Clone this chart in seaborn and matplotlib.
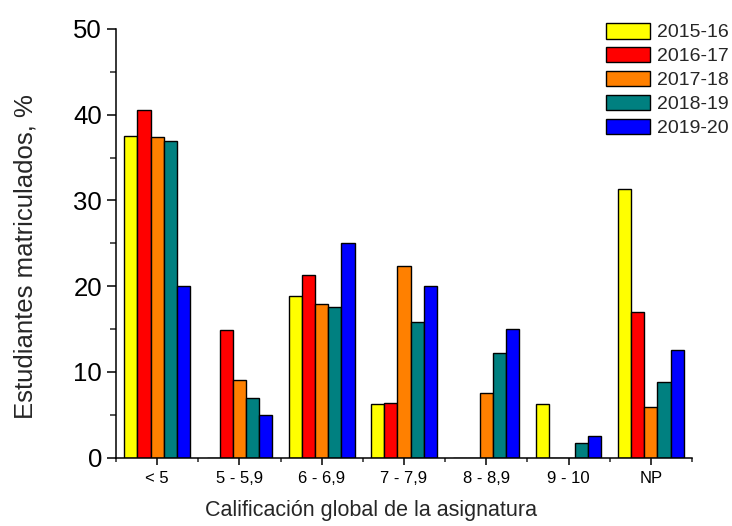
import matplotlib
matplotlib.use("Agg")
import matplotlib.pyplot as plt
from matplotlib.ticker import MultipleLocator, FixedLocator
import seaborn as sns
import pandas as pd

# Grade bands and academic years
categories = ["< 5", "5 - 5,9", "6 - 6,9", "7 - 7,9", "8 - 8,9", "9 - 10", "NP"]
years = ["2015-16", "2016-17", "2017-18", "2018-19", "2019-20"]

# Percentage of enrolled students per grade band, one list per year
v_2015_16 = [37.5, 0.0, 18.8, 6.2, 0.0, 6.2, 31.3]
v_2016_17 = [40.5, 14.9, 21.3, 6.4, 0.0, 0.0, 17.0]
v_2017_18 = [37.4, 9.0, 17.9, 22.4, 7.5, 0.0, 5.9]
v_2018_19 = [36.9, 7.0, 17.6, 15.8, 12.2, 1.7, 8.8]
v_2019_20 = [20.0, 5.0, 25.0, 20.0, 15.0, 2.5, 12.5]

series = [v_2015_16, v_2016_17, v_2017_18, v_2018_19, v_2019_20]
colors = ["#FFFF00", "#FF0000", "#FF8000", "#008080", "#0000FF"]

rows = []
for year, vals in zip(years, series):
    for cat, v in zip(categories, vals):
        rows.append({"cat": cat, "val": v, "year": year})
df = pd.DataFrame(rows)

sns.set_style("ticks")
plt.rcParams["font.family"] = ["Liberation Sans", "DejaVu Sans"]

W, H = 732, 526
fig = plt.figure(figsize=(W / 100, H / 100), dpi=100)
ax = fig.add_axes([116 / W, 1 - 457.5 / H, (692 - 116) / W, (457.5 - 29) / H])

sns.barplot(data=df, x="cat", y="val", hue="year", order=categories,
            hue_order=years, palette=colors, width=0.8, saturation=1,
            edgecolor="black", linewidth=1.0, errorbar=None, ax=ax)

ax.set_xlim(-0.5, len(categories) - 0.5)
ax.set_ylim(0, 50)

for side in ("top", "right"):
    ax.spines[side].set_visible(False)
for side in ("left", "bottom"):
    ax.spines[side].set_linewidth(1.1)
    ax.spines[side].set_color("black")

ax.yaxis.set_major_locator(MultipleLocator(10))
ax.yaxis.set_minor_locator(MultipleLocator(5))
ax.xaxis.set_minor_locator(FixedLocator([i - 0.5 for i in range(len(categories) + 1)]))

ax.tick_params(axis="y", which="major", length=6.5, width=1.1, labelsize=18.5, pad=3.5, colors="black")
ax.tick_params(axis="y", which="minor", length=4, width=1.1)
ax.tick_params(axis="x", which="major", length=5, width=1.1, labelsize=12, pad=4.5, colors="black")
ax.tick_params(axis="x", which="minor", length=3, width=1.1)

ax.set_xlabel("Calificación global de la asignatura", fontsize=15.5)
ax.xaxis.set_label_coords(0.443, -0.1)
ax.set_ylabel("Estudiantes matriculados, %", fontsize=18.5)
ax.yaxis.set_label_coords(-0.137, 0.468)

handles, labels = ax.get_legend_handles_labels()
ax.legend(handles, labels, loc="upper right", bbox_to_anchor=(729 / W, 1 - 23 / H),
          bbox_transform=fig.transFigure, frameon=False, fontsize=14,
          handlelength=2.3, handleheight=0.85, labelspacing=0.28,
          handletextpad=0.35, borderaxespad=0, borderpad=0)

fig.savefig("out.png", dpi=100)
